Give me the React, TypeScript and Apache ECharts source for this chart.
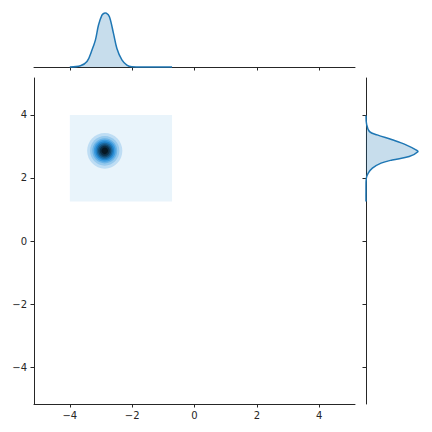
import React, { useEffect, useRef } from "react";
import * as echarts from "echarts";

// Axis ranges and tick labels
const tickValues = [-4, -2, 0, 2, 4];
const xRange = [-5.15, 5.15];
const yRange = [-5.17, 5.17];
const densityMax = 2.03;

// Top marginal KDE (x, density)
const topX = [-4.0, -3.66, -3.45, -3.29, -3.18, -3.08, -2.97, -2.9, -2.83, -2.73, -2.6, -2.49, -2.33, -2.17, -2.01, -1.5, -0.72];
const topDensity = [0, 0.04, 0.17, 0.53, 0.84, 1.31, 1.62, 1.68, 1.68, 1.57, 1.05, 0.58, 0.22, 0.06, 0.01, 0, 0];

// Right marginal KDE (y, density)
const rightY = [3.98, 3.7, 3.47, 3.365, 3.21, 3.05, 2.89, 2.83, 2.68, 2.57, 2.47, 2.31, 2.15, 1.99, 1.6, 1.25];
const rightDensity = [0, 0.02, 0.11, 0.35, 0.82, 1.25, 1.56, 1.62, 1.35, 0.82, 0.47, 0.2, 0.07, 0.01, 0, 0];

// Joint KDE: lowest shaded band (rectangle) and concentric contour bands
const shadeBox = [-4.0, 1.25, -0.72, 4.0];
const blobCenter = [-2.88, 2.86];
const ringRadii = [0.565, 0.47, 0.4, 0.35, 0.3, 0.255, 0.21, 0.16, 0.105];
const levelColors = [
  "hsl(205,71%,95%)",
  "hsl(205,71%,85%)",
  "hsl(205,71%,76%)",
  "hsl(205,71%,66%)",
  "hsl(205,71%,56%)",
  "hsl(205,71%,46%)",
  "hsl(205,71%,36%)",
  "hsl(205,71%,26%)",
  "hsl(205,71%,16%)",
  "hsl(205,71%,8%)",
];

const LINE = "#1f77b4";
const FILL = "rgba(31,119,180,0.25)";
const AXIS = "#262626";
const FONT = "DejaVu Sans";
const fmt = (v: number) => String(v).replace("-", "\u2212");

export default function App() {
  const ref = useRef<HTMLDivElement>(null);
  useEffect(() => {
    if (!ref.current) return;
    const chart = echarts.init(ref.current, null, { renderer: "svg" });
    const axisLine = { show: true, onZero: false, lineStyle: { color: AXIS, width: 1 } };
    const axisTick = { show: true, length: 3.5, lineStyle: { color: AXIS, width: 1 }, customValues: tickValues };
    const option: any = {
      animation: false,
      backgroundColor: "#ffffff",
      grid: [
        { left: 34, right: 77, top: 78, bottom: 28 },
        { left: 34, right: 77, top: 2, bottom: 432 - 67 },
        { left: 366, right: 1, top: 78, bottom: 28 },
      ],
      xAxis: [
        {
          gridIndex: 0, type: "value", min: xRange[0], max: xRange[1],
          axisLine, axisTick, splitLine: { show: false },
          axisLabel: { customValues: tickValues, formatter: fmt, color: AXIS, fontFamily: FONT, fontSize: 10, margin: 6 },
        },
        {
          gridIndex: 1, type: "value", min: xRange[0], max: xRange[1],
          axisLine, axisTick, splitLine: { show: false }, axisLabel: { show: false },
        },
        { gridIndex: 2, type: "value", min: 0, max: densityMax, show: false },
      ],
      yAxis: [
        {
          gridIndex: 0, type: "value", min: yRange[0], max: yRange[1],
          axisLine, axisTick, splitLine: { show: false },
          axisLabel: { customValues: tickValues, formatter: fmt, color: AXIS, fontFamily: FONT, fontSize: 10, margin: 7 },
        },
        { gridIndex: 1, type: "value", min: 0, max: densityMax, show: false },
        {
          gridIndex: 2, type: "value", min: yRange[0], max: yRange[1],
          axisLine, axisTick, splitLine: { show: false }, axisLabel: { show: false },
        },
      ],
      series: [
        {
          type: "custom", xAxisIndex: 0, yAxisIndex: 0,
          data: [shadeBox],
          renderItem: (params: any, api: any) => {
            const p0 = api.coord([api.value(0), api.value(1)]);
            const p1 = api.coord([api.value(2), api.value(3)]);
            return {
              type: "rect",
              shape: { x: p0[0], y: p1[1], width: p1[0] - p0[0], height: p0[1] - p1[1] },
              style: { fill: levelColors[0] },
            };
          },
        },
        {
          type: "custom", xAxisIndex: 0, yAxisIndex: 0,
          data: ringRadii.map((r, i) => [blobCenter[0], blobCenter[1], r, i + 1]),
          renderItem: (params: any, api: any) => {
            const c = api.coord([api.value(0), api.value(1)]);
            const s = api.size([api.value(2), api.value(2)]);
            return {
              type: "ellipse",
              shape: { cx: c[0], cy: c[1], rx: s[0], ry: s[1] },
              style: { fill: levelColors[api.value(3)] },
            };
          },
        },
        {
          type: "custom", xAxisIndex: 1, yAxisIndex: 1,
          data: [[topX[0], 0]],
          renderItem: (params: any, api: any) => {
            const pts = topX.map((x, i) => api.coord([x, topDensity[i]]));
            return {
              type: "group",
              children: [
                { type: "polygon", shape: { points: pts, smooth: 0.35 }, style: { fill: FILL } },
                { type: "polyline", shape: { points: pts, smooth: 0.35 }, style: { stroke: LINE, lineWidth: 1.5, fill: "none" } },
              ],
            };
          },
        },
        {
          type: "custom", xAxisIndex: 2, yAxisIndex: 2,
          data: [[0, rightY[0]]],
          renderItem: (params: any, api: any) => {
            const pts = rightY.map((y, i) => api.coord([rightDensity[i], y]));
            return {
              type: "group",
              children: [
                { type: "polygon", shape: { points: pts, smooth: 0.35 }, style: { fill: FILL } },
                { type: "polyline", shape: { points: pts, smooth: 0.35 }, style: { stroke: LINE, lineWidth: 1.5, fill: "none" } },
              ],
            };
          },
        },
      ],
    };
    chart.setOption(option);
    return () => chart.dispose();
  }, []);
  return <div ref={ref} style={{ position: "fixed", left: 0, top: 0, width: 432, height: 432 }} />;
}
